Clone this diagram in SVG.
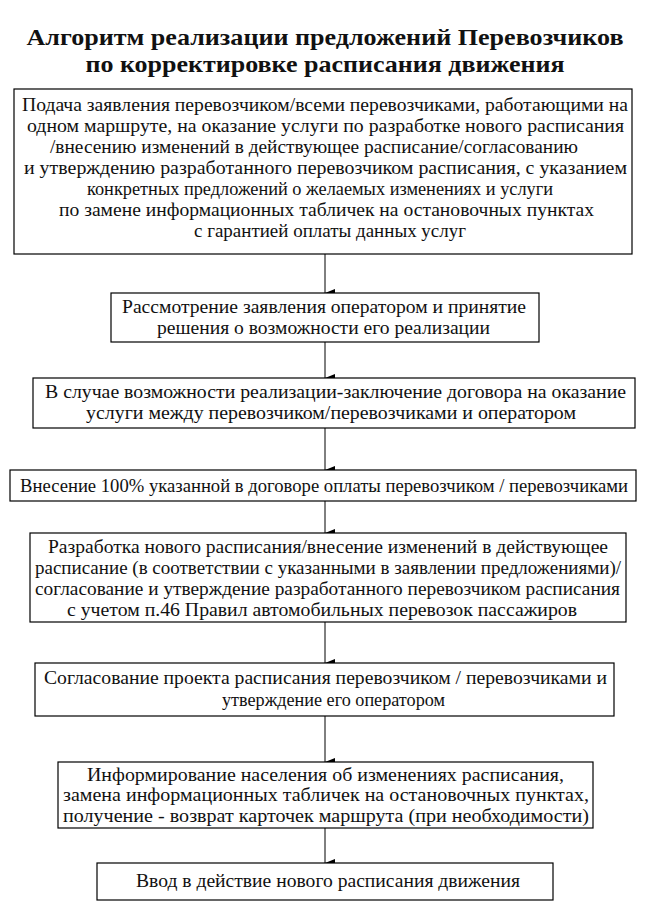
<svg xmlns="http://www.w3.org/2000/svg" width="645" height="910" viewBox="0 0 645 910">
<style>
.b{fill:#fff;stroke:#000;stroke-width:1.2}
text{font-family:"Liberation Serif","Times New Roman","DejaVu Serif",serif;fill:#111}
.t{font-size:19px}
.h{font-size:24px;font-weight:bold;text-anchor:middle}
.c{stroke:#000;stroke-width:1;fill:none;marker-end:url(#a)}
</style>
<defs><marker id="a" markerWidth="8" markerHeight="10" refX="4" refY="10" orient="auto" markerUnits="userSpaceOnUse" viewBox="0 0 8 10"><path d="M0,0 L8,0 L4,10 Z" fill="#000"/></marker></defs>
<rect width="645" height="910" fill="#fff"/>
<g id="title" font-family="Liberation Serif, serif">
<text class="h" x="325" y="45" textLength="597" lengthAdjust="spacingAndGlyphs">Алгоритм реализации предложений Перевозчиков</text>
<text class="h" x="325" y="72" textLength="479" lengthAdjust="spacingAndGlyphs">по корректировке расписания движения</text>
</g>
<g id="connectors">
<line class="c" x1="325" y1="254" x2="325" y2="293"/>
<line class="c" x1="325" y1="342" x2="325" y2="378"/>
<line class="c" x1="325" y1="428" x2="325" y2="470"/>
<line class="c" x1="325" y1="501" x2="325" y2="533"/>
<line class="c" x1="325" y1="622" x2="325" y2="663"/>
<line class="c" x1="325" y1="716" x2="325" y2="762"/>
<line class="c" x1="325" y1="828" x2="325" y2="863"/>
</g>
<g id="n1">
<rect class="b" x="14" y="89" width="618" height="165"/>
<text class="t" x="22" y="111" textLength="606" lengthAdjust="spacingAndGlyphs">Подача заявления перевозчиком/всеми перевозчиками, работающими на</text>
<text class="t" x="27" y="132" textLength="597" lengthAdjust="spacingAndGlyphs">одном маршруте, на оказание услуги по разработке нового расписания</text>
<text class="t" x="50" y="153" textLength="528" lengthAdjust="spacingAndGlyphs">/внесению изменений в действующее расписание/согласованию</text>
<text class="t" x="24" y="174" textLength="603" lengthAdjust="spacingAndGlyphs">и утверждению разработанного перевозчиком расписания, с указанием</text>
<text class="t" x="87" y="195" textLength="466" lengthAdjust="spacingAndGlyphs">конкретных предложений о желаемых изменениях и услуги</text>
<text class="t" x="59" y="216" textLength="535" lengthAdjust="spacingAndGlyphs">по замене информационных табличек на остановочных пунктах</text>
<text class="t" x="194" y="237" textLength="272" lengthAdjust="spacingAndGlyphs">с гарантией оплаты данных услуг</text>
</g>
<g id="n2">
<rect class="b" x="111" y="293" width="428" height="49"/>
<text class="t" x="122" y="313" textLength="404" lengthAdjust="spacingAndGlyphs">Рассмотрение заявления оператором и принятие</text>
<text class="t" x="157" y="334" textLength="333" lengthAdjust="spacingAndGlyphs">решения о возможности его реализации</text>
</g>
<g id="n3">
<rect class="b" x="33" y="378" width="602" height="50"/>
<text class="t" x="45" y="398" textLength="581" lengthAdjust="spacingAndGlyphs">В случае возможности реализации-заключение договора на оказание</text>
<text class="t" x="86" y="419" textLength="490" lengthAdjust="spacingAndGlyphs">услуги между перевозчиком/перевозчиками и оператором</text>
</g>
<g id="n4">
<rect class="b" x="10" y="470" width="626" height="31"/>
<text class="t" x="20" y="492" textLength="608" lengthAdjust="spacingAndGlyphs">Внесение 100% указанной в договоре оплаты перевозчиком / перевозчиками</text>
</g>
<g id="n5">
<rect class="b" x="30" y="533" width="596" height="89"/>
<text class="t" x="48" y="553" textLength="560" lengthAdjust="spacingAndGlyphs">Разработка нового расписания/внесение изменений в действующее</text>
<text class="t" x="35" y="574" textLength="586" lengthAdjust="spacingAndGlyphs">расписание (в соответствии с указанными в заявлении предложениями)/</text>
<text class="t" x="35" y="595" textLength="585" lengthAdjust="spacingAndGlyphs">согласование и утверждение разработанного перевозчиком расписания</text>
<text class="t" x="67" y="616" textLength="510" lengthAdjust="spacingAndGlyphs">с учетом п.46 Правил автомобильных перевозок пассажиров</text>
</g>
<g id="n6">
<rect class="b" x="35" y="663" width="579" height="53"/>
<text class="t" x="44" y="684" textLength="563" lengthAdjust="spacingAndGlyphs">Согласование проекта расписания перевозчиком / перевозчиками и</text>
<text class="t" x="222" y="706" textLength="223" lengthAdjust="spacingAndGlyphs">утверждение его оператором</text>
</g>
<g id="n7">
<rect class="b" x="58" y="762" width="535" height="66"/>
<text class="t" x="87" y="781" textLength="477" lengthAdjust="spacingAndGlyphs">Информирование населения об изменениях расписания,</text>
<text class="t" x="63" y="801" textLength="526" lengthAdjust="spacingAndGlyphs">замена информационных табличек на остановочных пунктах,</text>
<text class="t" x="63" y="822" textLength="526" lengthAdjust="spacingAndGlyphs">получение - возврат карточек маршрута (при необходимости)</text>
</g>
<g id="n8">
<rect class="b" x="97" y="863" width="456" height="37"/>
<text class="t" x="136" y="887" textLength="384" lengthAdjust="spacingAndGlyphs">Ввод в действие нового расписания движения</text>
</g>
</svg>
